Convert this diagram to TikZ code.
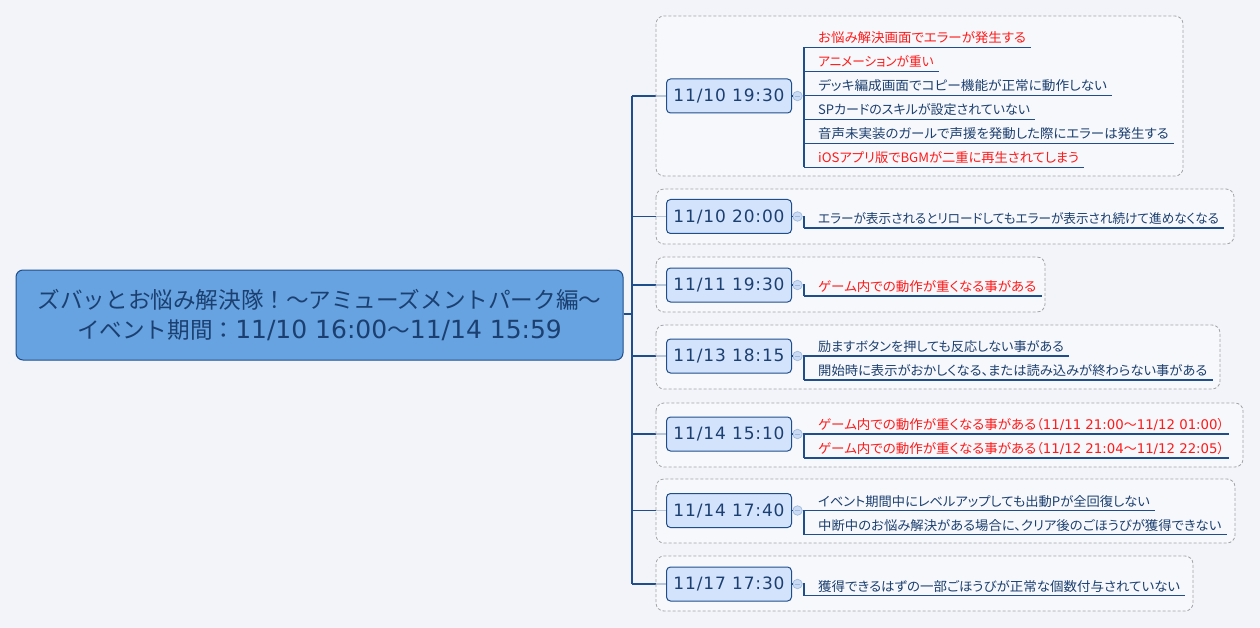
\documentclass[tikz,border=0pt]{standalone}
\usepackage{fontspec}
\newfontfamily\cjk[RawFeature=+palt]{Noto Sans CJK JP}
\newfontfamily\cjkm{Noto Sans CJK JP}
\newfontfamily\dvs{DejaVu Sans}
\newfontfamily\dvst[LetterSpace=5]{DejaVu Sans}
\usetikzlibrary{calc}
\definecolor{bg}{HTML}{F3F4F9}
\definecolor{bnd}{HTML}{FAFAFD}
\definecolor{bndline}{HTML}{A3A3A8}
\definecolor{navy}{HTML}{1F4E8C}
\definecolor{txt}{HTML}{1B3F70}
\definecolor{topicfill}{HTML}{D4E3FC}
\definecolor{rootfill}{HTML}{66A3E0}
\definecolor{alert}{HTML}{FF1A1A}
\definecolor{knobfill}{HTML}{CADBF3}
\definecolor{knobline}{HTML}{A0BBE0}
\tikzset{
  trunk/.style={draw=navy, line width=1.2pt},
  boundary/.style={draw=bndline, dashed, dash pattern=on 3pt off 2pt, fill=bnd, fill opacity=0.7, draw opacity=1, rounded corners=8pt, line width=0.8pt},
  topic/.style={draw=navy, fill=topicfill, rounded corners=4pt, line width=1pt, minimum width=125pt, minimum height=34pt, inner sep=0pt, text=txt, font=\dvst\fontsize{17}{20}\selectfont},
  root/.style={draw=navy, fill=rootfill, rounded corners=7pt, line width=1pt, minimum width=607pt, minimum height=90pt, align=center, text=txt, inner sep=0pt, font=\cjkm\fontsize{22.6}{30}\selectfont},
  knob/.style={circle, draw=knobline, fill=knobfill, minimum size=9.5pt, inner sep=0pt, line width=0.7pt},
  sub/.style={anchor=base west, inner sep=0pt, text=txt, font=\cjk\fontsize{13}{15}\selectfont},
  subr/.style={sub, text=alert},
  uline/.style={draw=navy, line width=1.2pt},
}
\newcommand{\uln}[1]{\draw[uline] ($(#1.base west)+(-14,4.5)$) -- ($(#1.base east)+(5,4.5)$);}
\newcommand{\sx}[2]{\scalebox{#1}[1]{#2}}
\newcommand{\dg}[1]{{\dvs\fontsize{13.3}{15}\selectfont #1}}
\begin{document}
\begin{tikzpicture}[x=1pt,y=-1pt]
\fill[bg] (0,0) rectangle (1260,628);
\useasboundingbox (0,0) rectangle (1260,628);
% root
\node[root] (root) at (319.5,315) {ズバッとお悩み解決隊！～アミューズメントパーク編～\\
イベント期間：{\dvs\fontsize{25}{30}\selectfont 11/10 16:00}～{\dvs\fontsize{25}{30}\selectfont 11/14 15:59}};
\coordinate (tk) at (632,314);
\coordinate (tt) at (632,96);
\coordinate (tb) at (632,584);
\draw[trunk] (root.east |- tk) -- (tk);
\draw[trunk] (tt) -- (tb);
% branches to topics (drawn before boundaries)
\foreach \y in {96,216.5,285,356,434,510.5,584}{\draw[trunk] (632,\y) -- (667,\y);}
% boundaries
\draw[boundary] (656,16) rectangle (1183,176);
\draw[boundary] (656,189) rectangle (1234,244);
\draw[boundary] (656,257) rectangle (1045,312);
\draw[boundary] (656,325) rectangle (1220,389);
\draw[boundary] (656,403) rectangle (1243,467);
\draw[boundary] (656,479) rectangle (1235,543);
\draw[boundary] (656,556) rectangle (1193,611);
% topics
\node[topic] (t1) at (729,96) {11/10 19:30};
\node[topic] (t2) at (729,216.5) {11/10 20:00};
\node[topic] (t3) at (729,285) {11/11 19:30};
\node[topic] (t4) at (729,356) {11/13 18:15};
\node[topic] (t5) at (729,434) {11/14 15:10};
\node[topic] (t6) at (729,510.5) {11/14 17:40};
\node[topic] (t7) at (729,584) {11/17 17:30};
% knobs
\foreach \i/\y in {1/96,2/216.5,3/285,4/356,5/434,6/510.5,7/584}{
  \node[knob] (k\i) at (797.5,\y) {};
  \draw[knobline, line width=0.8pt] ($(k\i)+(-2.5,0)$) -- ($(k\i)+(2.5,0)$);
  \draw[trunk] (t\i.east) -- (k\i.west);
}
% group 1
\node[subr] (a1) at (818,43) {\sx{1.035}{お悩み解決画面でエラーが発生する}};
\node[subr] (a2) at (818,67) {\sx{0.97}{アニメーションが重い}};
\node[sub]  (a3) at (818,91) {\sx{1.05}{デッキ編成画面でコピー機能が正常に動作しない}};
\node[sub]  (a4) at (818,115) {SPカードのスキルが設定されていない};
\node[sub]  (a5) at (818,139) {\sx{1.035}{音声未実装のガールで声援を発動した際にエラーは発生する}};
\node[subr] (a6) at (818,163) {\sx{1.02}{iOSアプリ版でBGMが二重に再生されてしまう}};
\foreach \n in {a1,a2,a3,a4,a5,a6}{\uln{\n}}
\draw[uline] ($(a1.base west)+(-14,4.5)$) -- ($(a6.base west)+(-14,4.5)$);
\draw[uline] (k1.east) -- (804,96);
% group 2
\node[sub] (b1) at (818,223.5) {\sx{0.97}{エラーが表示されるとリロードしてもエラーが表示され続けて進めなくなる}};
\uln{b1}
\draw[uline] (k2.east) -- (804,216.5) -- ($(b1.base west)+(-14,4.5)$);
% group 3
\node[subr] (c1) at (818,291.5) {\sx{1.04}{ゲーム内での動作が重くなる事がある}};
\uln{c1}
\draw[uline] (k3.east) -- (804,285) -- ($(c1.base west)+(-14,4.5)$);
% group 4
\node[sub] (d1) at (818,351.5) {\sx{1.01}{励ますボタンを押しても反応しない事がある}};
\node[sub] (d2) at (818,375.5) {\sx{1.024}{開始時に表示がおかしくなる、または読み込みが終わらない事がある}};
\uln{d1}\uln{d2}
\draw[uline] (k4.east) -- ($(d1.base west)+(-14,4.5)$) -- ($(d2.base west)+(-14,4.5)$);
% group 5
\node[subr] (e1) at (818,429.5) {\sx{1.04}{ゲーム内での動作が重くなる事がある}（\dg{11/11 21:00}～\dg{11/12 01:00}）};
\node[subr] (e2) at (818,453.5) {\sx{1.04}{ゲーム内での動作が重くなる事がある}（\dg{11/12 21:04}～\dg{11/12 22:05}）};
\uln{e1}\uln{e2}
\draw[uline] (k5.east) -- ($(e1.base west)+(-14,4.5)$) -- ($(e2.base west)+(-14,4.5)$);
% group 6
\node[sub] (f1) at (818,506) {\sx{1.02}{イベント期間中にレベルアップしても出動Pが全回復しない}};
\node[sub] (f2) at (818,530) {\sx{1.028}{中断中のお悩み解決がある場合に、クリア後のごほうびが獲得できない}};
\uln{f1}\uln{f2}
\draw[uline] (k6.east) -- ($(f1.base west)+(-14,4.5)$) -- ($(f2.base west)+(-14,4.5)$);
% group 7
\node[sub] (g1) at (818,591) {\sx{1.037}{獲得できるはずの一部ごほうびが正常な個数付与されていない}};
\uln{g1}
\draw[uline] (k7.east) -- (804,584) -- ($(g1.base west)+(-14,4.5)$);
\end{tikzpicture}
\end{document}
